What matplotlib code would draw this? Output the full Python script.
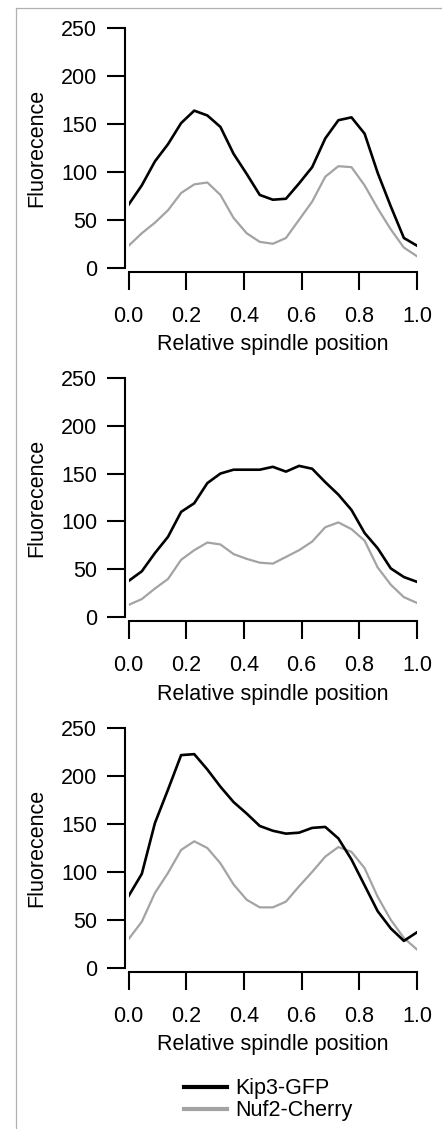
import numpy as np
import matplotlib
matplotlib.use("Agg")
import matplotlib.pyplot as plt
from matplotlib.lines import Line2D

plt.rcParams['font.family'] = ['Liberation Sans', 'DejaVu Sans']

# Relative spindle position (23 samples)
position = np.linspace(0.0, 1.0, 23)

# Panel 1
kip3_p1 = [66, 86, 111, 129, 151, 164, 159, 147, 119, 98, 76, 71, 72, 88, 105, 135,
           154, 157, 140, 99, 64, 31, 23]
nuf2_p1 = [23, 36, 47, 60, 78, 87, 89, 76, 52, 36, 27, 25, 31, 50, 69, 95,
           106, 105, 86, 62, 40, 21, 12]

# Panel 2
kip3_p2 = [38, 48, 67, 84, 110, 119, 140, 150, 154, 154, 154, 157, 152, 158, 155, 141,
           128, 112, 88, 72, 51, 42, 37]
nuf2_p2 = [13, 19, 30, 40, 60, 70, 78, 76, 66, 61, 57, 56, 63, 70, 79, 94,
           99, 92, 80, 52, 34, 21, 15]

# Panel 3
kip3_p3 = [75, 98, 151, 186, 222, 223, 207, 189, 173, 161, 148, 143, 140, 141, 146, 147,
           135, 113, 86, 59, 41, 28, 37]
nuf2_p3 = [30, 48, 78, 99, 123, 132, 125, 109, 87, 71, 63, 63, 69, 85, 100, 116,
           126, 121, 104, 74, 50, 31, 19]

series_labels = ["Kip3-GFP", "Nuf2-Cherry"]
x_ticks = [0.0, 0.2, 0.4, 0.6, 0.8, 1.0]
x_ticklabels = ["0.0", "0.2", "0.4", "0.6", "0.8", "1.0"]
y_ticks = [0, 50, 100, 150, 200, 250]
xlabel = "Relative spindle position"
ylabel = "Fluorecence"

panels = [(kip3_p1, nuf2_p1), (kip3_p2, nuf2_p2), (kip3_p3, nuf2_p3)]

W, H = 442, 1129
fig = plt.figure(figsize=(W / 100, H / 100), dpi=100)

# pixel geometry: (y of value 250, y of value 0)
geom = [(28.3, 267.7), (377.7, 617.3), (728.3, 967.7)]
x0_px, x1_px = 128.7, 417.0

black = "#000000"
gray = "#a3a3a3"
FS = 15.5

for (kip, nuf), (ytop, ybot) in zip(panels, geom):
    ax = fig.add_axes([x0_px / W, 1 - ybot / H, (x1_px - x0_px) / W, (ybot - ytop) / H])
    ax.plot(position, nuf, color=gray, lw=1.6, solid_joinstyle='round')
    ax.plot(position, kip, color=black, lw=1.9, solid_joinstyle='round')
    ax.set_xlim(0, 1)
    ax.set_ylim(0, 250)
    ax.set_xticks(x_ticks)
    ax.set_xticklabels(x_ticklabels)
    ax.set_yticks(y_ticks)
    for s in ['top', 'right']:
        ax.spines[s].set_visible(False)
    ax.spines['left'].set_position(('outward', 2.6))
    ax.spines['bottom'].set_position(('outward', 2.8))
    ax.spines['left'].set_bounds(0, 250)
    for s in ['left', 'bottom']:
        ax.spines[s].set_linewidth(1.5)
        ax.spines[s].set_capstyle('projecting')
    ax.tick_params(axis='both', direction='out', length=13, width=1.5,
                   labelsize=FS, colors='black')
    ax.tick_params(axis='y', pad=7)
    ax.tick_params(axis='x', pad=11.5)
    ax.set_xlabel(xlabel, fontsize=FS, labelpad=5.5)
    ax.set_ylabel(ylabel, fontsize=FS, labelpad=10)
    ax.patch.set_alpha(0)

handles = [Line2D([], [], color=black, lw=3.0), Line2D([], [], color=gray, lw=3.0)]
fig.legend(handles, series_labels, loc='upper left',
           bbox_to_anchor=(169 / W, 1 - 1063 / H), frameon=False, fontsize=FS,
           handlelength=2.0, handletextpad=0.4, labelspacing=0.05, borderpad=0.2)

# frame remnants of the original figure
fig.add_artist(Line2D([15.5 / W, 15.5 / W], [0, 1 - 7.5 / H], color="#b0b0b0", lw=0.9,
                      transform=fig.transFigure))
fig.add_artist(Line2D([15.5 / W, 1], [1 - 7.5 / H, 1 - 7.5 / H], color="#b0b0b0", lw=0.9,
                      transform=fig.transFigure))

fig.savefig("out.png", dpi=100, facecolor="white")
